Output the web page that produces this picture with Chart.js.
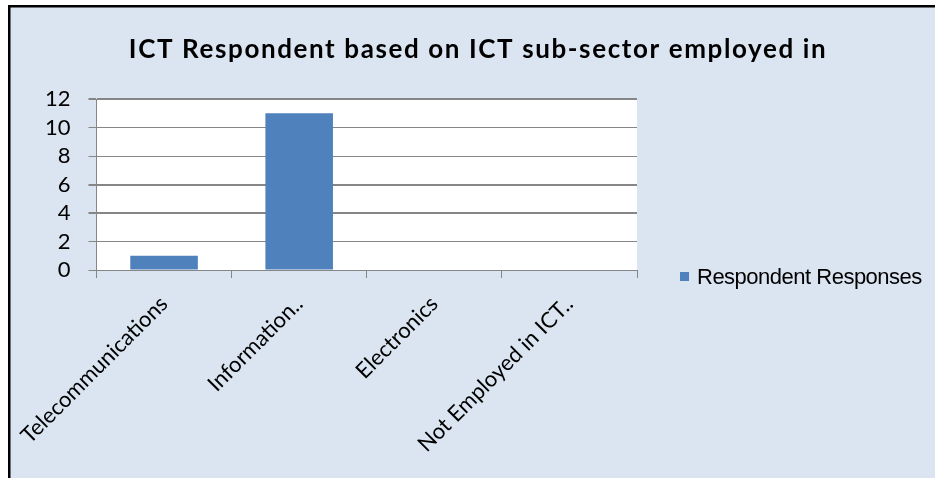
<!DOCTYPE html>
<html><head><meta charset="utf-8">
<script src="https://cdn.jsdelivr.net/npm/chart.js@4.4.1/dist/chart.umd.min.js"></script>
<style>html,body{margin:0;padding:0;background:#fff;overflow:hidden}#wrap{width:935px;height:478px;position:relative}</style>
</head><body><div id="wrap"><canvas id="c" width="935" height="478"></canvas></div>
<script>
const chartTitle = 'ICT Respondent based on ICT sub-sector employed in';
const categories = ['Telecommunications', 'Information..', 'Electronics', 'Not Employed in ICT..'];
const seriesName = 'Respondent Responses';
const responses = [1, 11, 0, 0];
const yTickValues = [0, 2, 4, 6, 8, 10, 12];

const BG = '#dbe5f1';
const BAR = '#4f81bd';
const GRID = '#868686';
const FONT = 'Lato, "Open Sans", sans-serif';

const framePlugin = {
  id: 'frame',
  beforeDraw(chart) {
    const ctx = chart.ctx, a = chart.chartArea;
    ctx.save();
    ctx.fillStyle = '#fff';
    ctx.fillRect(0, 0, chart.width, chart.height);
    ctx.fillStyle = BG;
    ctx.fillRect(8, 5, chart.width - 8, chart.height - 5);
    ctx.fillStyle = '#000';
    ctx.fillRect(8, 5, chart.width - 8, 2.5);
    ctx.fillRect(8, 5, 2.5, chart.height - 5);
    ctx.fillStyle = '#fff';
    ctx.fillRect(a.left, a.top, a.right - a.left, a.bottom - a.top);
    ctx.restore();
  }
};

const titleLegendPlugin = {
  id: 'titleLegend',
  afterDraw(chart) {
    const ctx = chart.ctx;
    ctx.save();
    ctx.fillStyle = '#000';
    ctx.font = 'bold 26px ' + FONT;
    ctx.letterSpacing = '1.6px';
    ctx.textAlign = 'center';
    ctx.textBaseline = 'alphabetic';
    ctx.fillText(chartTitle, 478, 58);
    // legend
    const ds = chart.data.datasets[0];
    ctx.fillStyle = ds.backgroundColor;
    ctx.fillRect(680, 272, 9, 9);
    ctx.fillStyle = '#000';
    ctx.font = '22px "Liberation Sans", Arial, sans-serif';
    ctx.letterSpacing = '-0.5px';
    ctx.textAlign = 'left';
    ctx.fillText(ds.label, 697, 284);
    ctx.restore();
  }
};

new Chart(document.getElementById('c'), {
  type: 'bar',
  data: {
    labels: categories,
    datasets: [{
      label: seriesName,
      data: responses,
      backgroundColor: BAR,
      borderWidth: 0,
      barPercentage: 0.5,
      categoryPercentage: 1.0
    }]
  },
  options: {
    responsive: false,
    animation: false,
    devicePixelRatio: 1,
    layout: { padding: { left: 0, top: 99, right: 298, bottom: 0 } },
    plugins: {
      legend: { display: false },
      title: { display: false },
      tooltip: { enabled: false }
    },
    scales: {
      x: {
        offset: true,
        grid: { offset: true, drawOnChartArea: false, drawTicks: true, tickLength: 8, color: GRID, lineWidth: 1 },
        border: { display: true, color: GRID, width: 1 },
        ticks: {
          color: '#000',
          font: { family: FONT, size: 22 },
          minRotation: 45, maxRotation: 45,
          padding: 13,
          autoSkip: false
        },
        afterFit(scale) { scale.height = 208; }
      },
      y: {
        min: 0, max: 12,
        afterBuildTicks(scale) { scale.ticks = yTickValues.map(v => ({ value: v })); },
        grid: {
          color: GRID,
          lineWidth: (c) => (c.tick && [12, 6, 4].includes(c.tick.value)) ? 2 : 1,
          tickLength: 8,
          drawTicks: true
        },
        border: { display: true, color: GRID, width: 1 },
        ticks: {
          color: '#000',
          font: { family: FONT, size: 22 },
          padding: 18,
          autoSkip: false
        },
        afterFit(scale) { scale.width = 96; }
      }
    }
  },
  plugins: [framePlugin, titleLegendPlugin]
});
</script>
</body></html>
